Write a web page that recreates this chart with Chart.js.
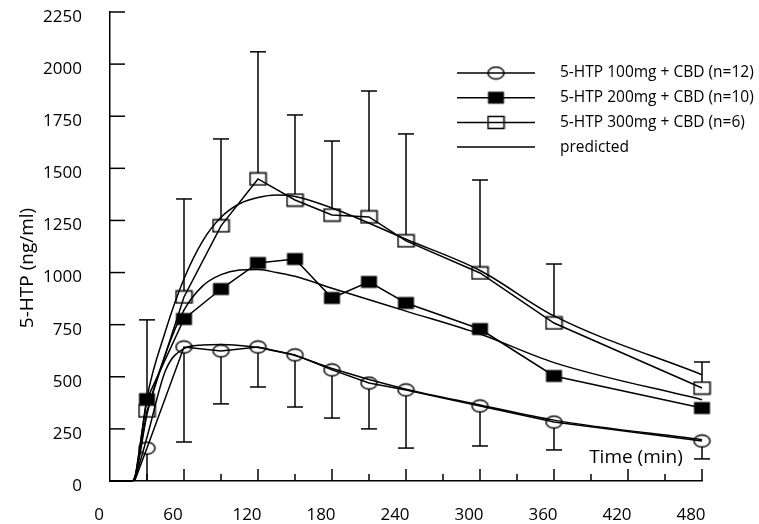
<!DOCTYPE html>
<html>
<head>
<meta charset="utf-8">
<script src="https://cdn.jsdelivr.net/npm/chart.js@4/dist/chart.umd.min.js"></script>
<style>
  body { margin: 0; background: #fff; }
  #wrap { width: 759px; height: 524px; }
</style>
</head>
<body>
<div id="wrap"><canvas id="myChart" width="759" height="524"></canvas></div>
<script>
// observed sampling times (min)
var times = [30, 60, 90, 120, 150, 180, 210, 240, 300, 360, 480];
var obs100 = [158, 643, 624, 643, 605, 533, 470, 437, 360, 283, 192];
var obs200 = [393, 777, 921, 1046, 1065, 878, 955, 854, 729, 504, 350];
var obs300 = [336, 883, 1224, 1449, 1348, 1276, 1267, 1152, 998, 758, 446];
// error bars: upper for 300mg, lower for 100mg
var err300Upper = [773, 1353, 1641, 2059, 1756, 1631, 1871, 1665, 1444, 1041, 571];
var err100Lower = [0, 187, 370, 451, 355, 302, 250, 158, 168, 149, 106];

// model prediction
var predT = [0, 18, 21, 30, 45, 60, 75, 90, 105, 120, 135, 150, 180, 240, 300, 360, 480];
var pred100 = [0, 0, 30, 210, 530, 635, 652, 655, 650, 640, 622, 602, 540, 440, 365, 292, 198];
var pred200 = [0, 0, 30, 320, 610, 820, 935, 990, 1012, 1015, 1000, 982, 925, 815, 705, 568, 390];
var pred300 = [0, 0, 40, 400, 720, 970, 1150, 1265, 1330, 1360, 1372, 1365, 1310, 1160, 1010, 792, 510];

var lagT = 20;
var legendLabels = ['5-HTP 100mg + CBD (n=12)', '5-HTP 200mg + CBD (n=10)', '5-HTP 300mg + CBD (n=6)', 'predicted'];
var xTicksMax = 480, yTicksMax = 2250;

var FONT = '"Open Sans", "DejaVu Sans", sans-serif';

function marker(kind) {
    var c = document.createElement('canvas');
    c.width = 19; c.height = 15;
    var g = c.getContext('2d');
    g.lineWidth = 1.5;
    g.strokeStyle = '#000';
    g.fillStyle = '#000';
    if (kind == 'ellipse') {
        g.beginPath();
        g.ellipse(9.5, 7.5, 8, 6, 0, 0, Math.PI * 2);
        g.stroke();
    } else if (kind == 'filled') {
        g.fillRect(1.5, 1.5, 16, 12);
    } else {
        g.strokeRect(1.5, 1.5, 16, 12);
    }
    return c;
}
var mkCircle = marker('ellipse');
var mkFilled = marker('filled');
var mkOpen = marker('open');

function pts(xs, ys, lag) {
    var out = [];
    if (lag) out.push({x: lagT, y: 0});
    for (var i = 0; i < xs.length; i++) out.push({x: xs[i], y: ys[i]});
    return out;
}

function obsSet(label, data, mk) {
    return {
        label: label,
        data: pts(times, data, true),
        showLine: true,
        borderColor: '#000',
        borderWidth: 1.5,
        pointStyle: mk,
        pointRadius: function(c) { return c.raw && c.raw.y === 0 ? 0 : 6; },
        clip: false
    };
}
function predSet(data) {
    return {
        label: 'predicted',
        data: pts(predT, data, false),
        showLine: true,
        borderColor: '#000',
        borderWidth: 1.5,
        pointRadius: 0,
        cubicInterpolationMode: 'monotone',
        clip: false
    };
}

var extras = {
    id: 'extras',
    afterDatasetsDraw: function(chart) {
        var g = chart.ctx, xs = chart.scales.x, ys = chart.scales.y;
        g.save();
        g.strokeStyle = '#000';
        g.lineWidth = 1.5;
        // inward tick marks
        ys.ticks.forEach(function(t) {
            var py = ys.getPixelForValue(t.value);
            g.beginPath(); g.moveTo(xs.left, py); g.lineTo(xs.left + 15, py); g.stroke();
        });
        xs.ticks.forEach(function(t) {
            if (t.value === 0) return;
            var px = xs.getPixelForValue(t.value);
            var len = t.value % 60 === 0 ? 12 : 7;
            g.beginPath(); g.moveTo(px, ys.bottom); g.lineTo(px, ys.bottom - len); g.stroke();
        });
        // error bars
        function bar(t, v, e, dir) {
            var px = xs.getPixelForValue(t);
            var p0 = ys.getPixelForValue(v) + dir * 6;
            var p1 = ys.getPixelForValue(e);
            g.beginPath(); g.moveTo(px, p0); g.lineTo(px, p1); g.stroke();
            if (e > 0) {
                g.beginPath(); g.moveTo(px - 8, p1); g.lineTo(px + 8, p1); g.stroke();
            }
        }
        for (var i = 0; i < times.length; i++) {
            bar(times[i], obs300[i], err300Upper[i], -1);
            bar(times[i], obs100[i], err100Lower[i], 1);
        }
        // legend
        var mks = [mkCircle, mkFilled, mkOpen, null];
        g.font = '15.5px ' + FONT;
        g.fillStyle = '#000';
        g.textBaseline = 'middle';
        for (var k = 0; k < legendLabels.length; k++) {
            var ly = 73 + k * 24.7;
            g.beginPath(); g.moveTo(457, ly); g.lineTo(535, ly); g.stroke();
            if (mks[k]) g.drawImage(mks[k], 496 - 9.5, ly - 7.5);
            g.fillText(legendLabels[k], 560, ly);
        }
        // axis titles
        g.font = '19px ' + FONT;
        g.textAlign = 'center';
        g.fillText('Time (min)', 636, 458);
        g.translate(28, 268);
        g.rotate(-Math.PI / 2);
        g.fillText('5-HTP (ng/ml)', 0, 0);
        g.restore();
    }
};

var ctx = document.getElementById('myChart').getContext('2d');
var chart = new Chart(ctx, {
    type: 'scatter',
    data: {
        datasets: [
            obsSet(legendLabels[0], obs100, mkCircle),
            obsSet(legendLabels[1], obs200, mkFilled),
            obsSet(legendLabels[2], obs300, mkOpen),
            predSet(pred100),
            predSet(pred200),
            predSet(pred300)
        ]
    },
    options: {
        responsive: false,
        animation: false,
        layout: { padding: { top: 12, right: 57, left: 0, bottom: 0 } },
        plugins: { legend: { display: false }, tooltip: { enabled: false } },
        scales: {
            x: {
                type: 'linear',
                min: 0, max: xTicksMax,
                afterFit: function(s) { s.height = 43; s.paddingLeft = 0; s.paddingRight = 0; },
                grid: { display: false, drawTicks: false },
                border: { display: true, color: '#000', width: 1.5 },
                ticks: {
                    stepSize: 30,
                    autoSkip: false,
                    maxRotation: 0,
                    padding: 24,
                    labelOffset: -11,
                    color: '#000',
                    font: { family: FONT, size: 17 },
                    callback: function(v) { return v % 60 === 0 ? String(v) : ''; }
                }
            },
            y: {
                min: 0, max: yTicksMax,
                afterFit: function(s) { s.width = 110; s.paddingTop = 0; s.paddingBottom = 0; },
                grid: { display: false, drawTicks: false },
                border: { display: true, color: '#000', width: 1.5 },
                ticks: {
                    stepSize: 250,
                    padding: 28,
                    labelOffset: 5,
                    color: '#000',
                    font: { family: FONT, size: 17 },
                    callback: function(v) { return String(v); }
                }
            }
        }
    },
    plugins: [extras]
});
</script>
</body>
</html>
